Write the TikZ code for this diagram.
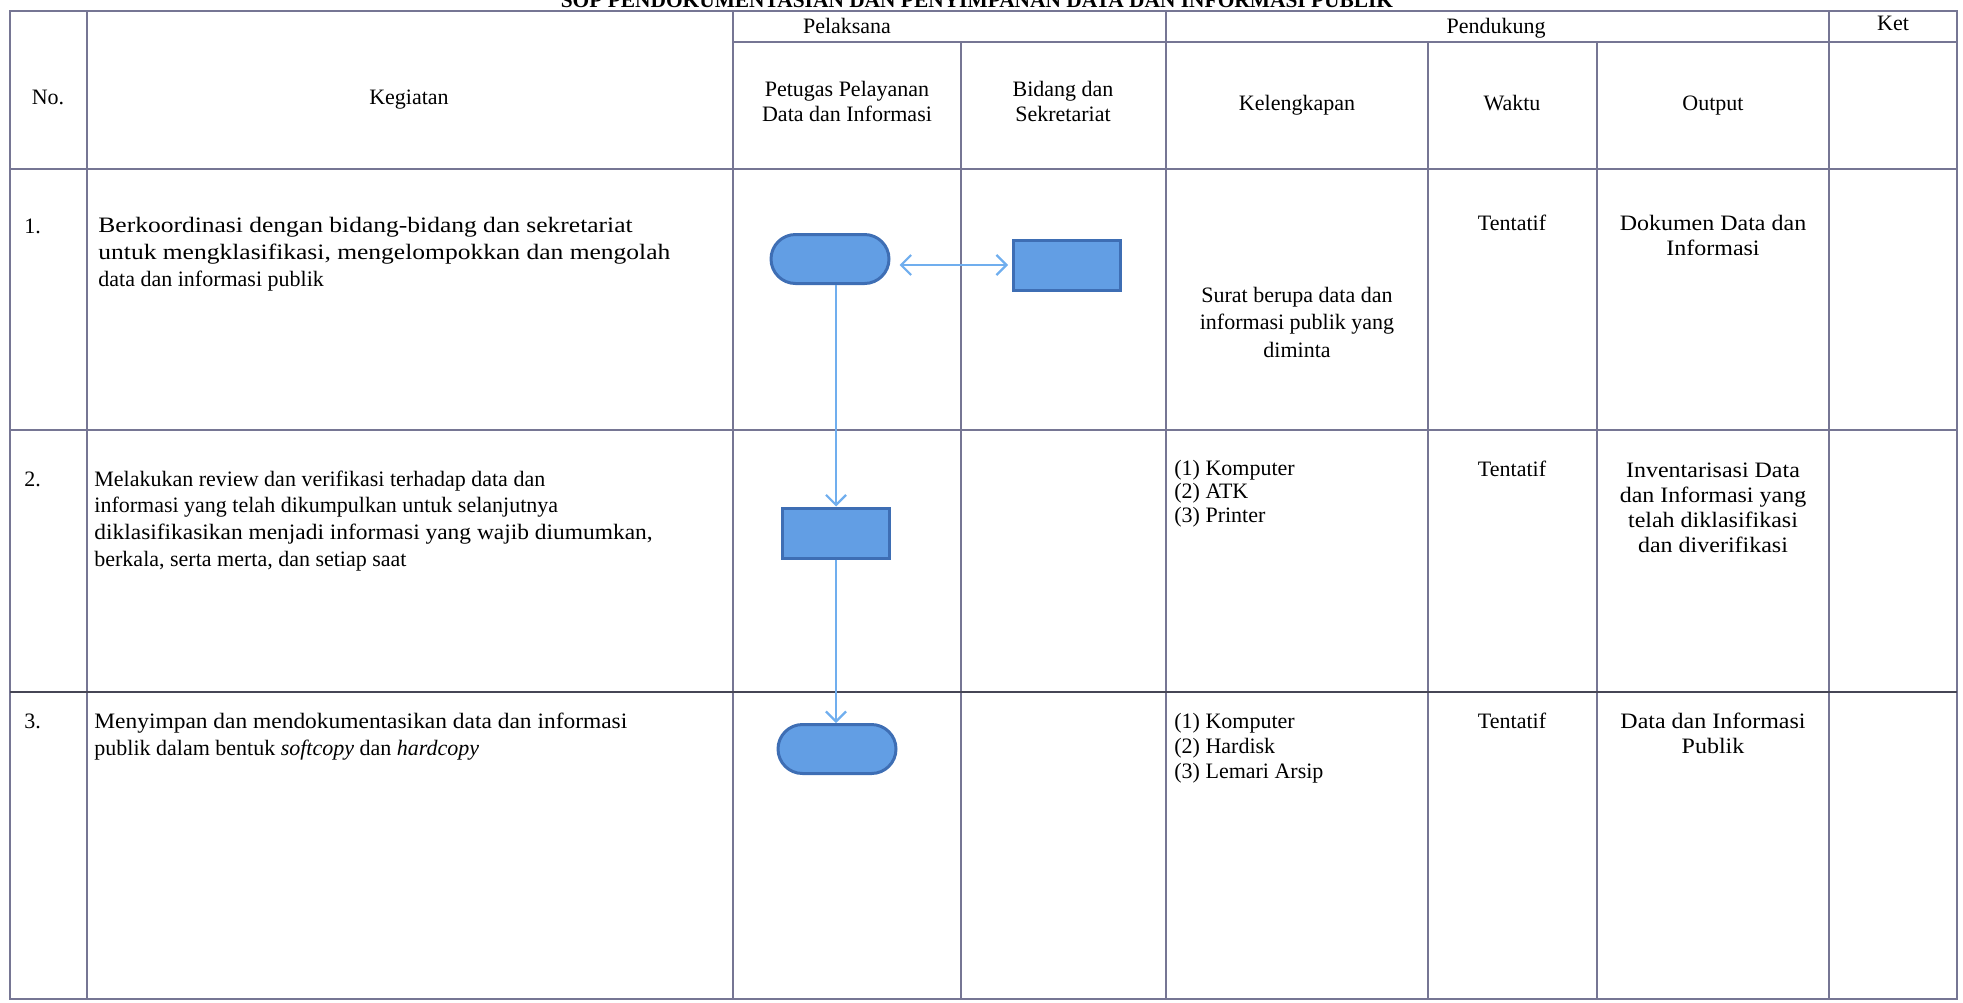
\documentclass[tikz,border=0pt]{standalone}
\usepackage{fontspec}
\setmainfont{Liberation Serif}
\newfontfamily\wideA[FakeStretch=1.16]{Liberation Serif}
\newfontfamily\wideB[FakeStretch=1.065]{Liberation Serif}
\newfontfamily\wideC[FakeStretch=1.09]{Liberation Serif}
\usetikzlibrary{shapes.misc,arrows.meta}
\definecolor{gridc}{RGB}{118,118,148}
\definecolor{gridd}{RGB}{70,70,85}
\definecolor{shapefill}{RGB}{98,158,228}
\definecolor{shapedraw}{RGB}{62,110,180}
\definecolor{arrowc}{RGB}{112,174,238}
\begin{document}
\begin{tikzpicture}[x=0.5pt,y=-0.5pt,
  gridline/.style={draw=gridc,line width=0.8pt},
  darkline/.style={draw=gridd,line width=1.1pt},
  txt/.style={font=\fontsize{11}{13.3}\selectfont, inner sep=0pt, align=left},
  ctxt/.style={font=\fontsize{11}{12.5}\selectfont, inner sep=0pt, align=center},
  otxt/.style={font=\fontsize{11}{12.5}\selectfont\wideC, inner sep=0pt, align=center},
  term/.style={rounded rectangle, fill=shapefill, draw=shapedraw, line width=1.5pt,
    minimum width=59pt, minimum height=24.5pt, inner sep=0pt},
  proc/.style={rectangle, fill=shapefill, draw=shapedraw, line width=1.5pt,
    minimum width=53.5pt, minimum height=25pt, inner sep=0pt},
  flow/.style={draw=arrowc, line width=1.1pt, -{Straight Barb[length=5pt,width=10pt]}},
  biflow/.style={draw=arrowc, line width=1.1pt, {Straight Barb[length=5pt,width=10pt]}-{Straight Barb[length=5pt,width=10pt]}},
]
\useasboundingbox (0,0) rectangle (1963,1002);
\clip (0,0) rectangle (1963,1002);

% title (cut by the page edge, as in the scan)
\node[font=\fontsize{10.7}{13}\selectfont\bfseries, inner sep=0pt, anchor=base] (title) at (977,7)
  {SOP PENDOKUMENTASIAN DAN PENYIMPANAN DATA DAN INFORMASI PUBLIK};

% table grid
\draw[gridline] (10,11) rectangle (1957,999);
\draw[gridline] (87,11) -- (87,999);
\draw[gridline] (733,11) -- (733,999);
\draw[gridline] (961,42) -- (961,999);
\draw[gridline] (1166,11) -- (1166,999);
\draw[gridline] (1428,42) -- (1428,999);
\draw[gridline] (1597,42) -- (1597,999);
\draw[gridline] (1829,11) -- (1829,999);
\draw[gridline] (733,42) -- (1957,42);
\draw[gridline] (10,169) -- (1957,169);
\draw[gridline] (10,430) -- (1957,430);
\draw[darkline] (10,692) -- (1957,692);

% header (anchor = baseline of the last line)
\node[ctxt, anchor=base] (hpel) at (847,33) {Pelaksana};
\node[ctxt, anchor=base] (hpen) at (1496,33) {Pendukung};
\node[ctxt, anchor=base] (hket) at (1893,30) {Ket};
\node[ctxt, anchor=base] (hno) at (48,104) {No.};
\node[ctxt, anchor=base] (hkeg) at (409,104) {Kegiatan};
\node[ctxt, anchor=base] (hpet) at (847,121) {Petugas Pelayanan\\Data dan Informasi};
\node[ctxt, anchor=base] (hbid) at (1063,121) {Bidang dan\\Sekretariat};
\node[ctxt, anchor=base] (hkel) at (1297,110) {Kelengkapan};
\node[ctxt, anchor=base] (hwak) at (1512,110) {Waktu};
\node[ctxt, anchor=base] (hout) at (1713,110) {Output};

% row 1
\node[txt, anchor=base west] (n1) at (24,233) {1.};
\node[txt, anchor=base west] (k1) at (98,286) {{\wideA Berkoordinasi dengan bidang-bidang dan sekretariat}\\{\wideA untuk mengklasifikasi, mengelompokkan dan mengolah}\\data dan informasi publik};
\node[ctxt, anchor=base, font=\fontsize{11}{13.6}\selectfont] (l1) at (1297,357) {Surat berupa data dan\\informasi publik yang\\diminta};
\node[ctxt, anchor=base] (w1) at (1512,230) {Tentatif};
\node[otxt, anchor=base] (o1) at (1713,255) {Dokumen Data dan\\Informasi};

% row 2
\node[txt, anchor=base west] (n2) at (24,486) {2.};
\node[txt, anchor=base west] (k2) at (94,566) {Melakukan review dan verifikasi terhadap data dan\\informasi yang telah dikumpulkan untuk selanjutnya\\{\wideB diklasifikasikan menjadi informasi yang wajib diumumkan,}\\berkala, serta merta, dan setiap saat};
\node[txt, anchor=base west, font=\fontsize{11}{11.6}\selectfont] (l2) at (1174,522) {(1) Komputer\\(2) ATK\\(3) Printer};
\node[ctxt, anchor=base] (w2) at (1512,476) {Tentatif};
\node[otxt, anchor=base] (o2) at (1713,552) {Inventarisasi Data\\dan Informasi yang\\telah diklasifikasi\\dan diverifikasi};

% row 3
\node[txt, anchor=base west] (n3) at (24,728) {3.};
\node[txt, anchor=base west] (k3) at (94,755) {{\wideB Menyimpan dan mendokumentasikan data dan informasi}\\publik dalam bentuk \textit{softcopy} dan \textit{hardcopy}};
\node[txt, anchor=base west, font=\fontsize{11}{12.5}\selectfont] (l3) at (1174,778) {(1) Komputer\\(2) Hardisk\\(3) Lemari Arsip};
\node[ctxt, anchor=base] (w3) at (1512,728) {Tentatif};
\node[otxt, anchor=base] (o3) at (1713,753) {Data dan Informasi\\Publik};

% flow shapes
\node[term] (s1) at (830,259) {};
\node[proc] (p1) at (1067,265) {};
\node[proc] (p2) at (836,533) {};
\node[term] (s3) at (837,749) {};

% connectors
\draw[biflow] ([xshift=4.5pt,yshift=-3pt]s1.east) -- ([xshift=-2pt]p1.west);
\draw[flow] (s1.south -| p2.north) -- (p2.north);
\draw[flow] (p2.south) -- (p2.south |- s3.north);
\end{tikzpicture}
\end{document}
